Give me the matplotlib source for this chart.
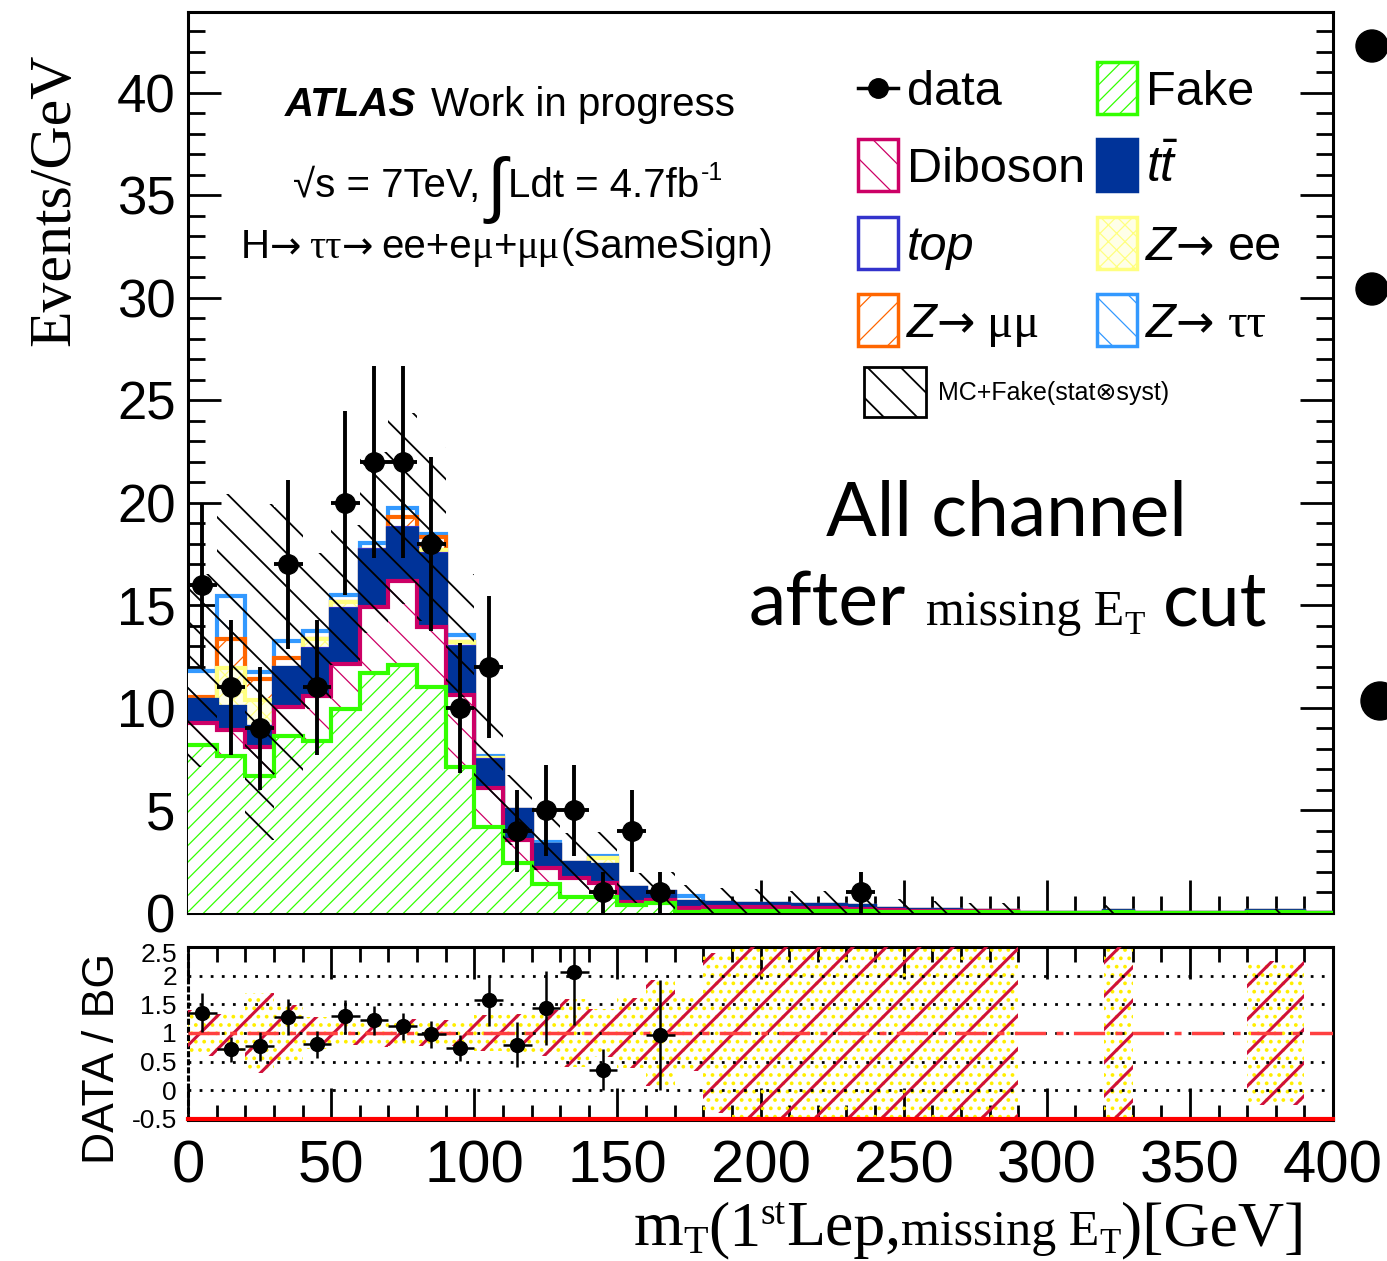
import numpy as np
import matplotlib
matplotlib.use("Agg")
import matplotlib.pyplot as plt
import matplotlib.transforms as mtransforms
from matplotlib.patches import Rectangle, Ellipse
from matplotlib.lines import Line2D
from matplotlib.ticker import MultipleLocator, FixedLocator

W, H = 1387, 1261

SANS = ["Liberation Sans", "DejaVu Sans"]
SERIF = ["Liberation Serif", "DejaVu Serif"]

plt.rcParams["font.family"] = SANS
plt.rcParams["mathtext.fontset"] = "custom"
plt.rcParams["mathtext.rm"] = "Liberation Sans"
plt.rcParams["mathtext.it"] = "Liberation Sans:italic"
plt.rcParams["mathtext.bf"] = "Liberation Sans:bold"
plt.rcParams["hatch.linewidth"] = 1.0

# m_T(1st lepton, MET), 10 GeV bins from 0 to 400
edges = np.arange(0, 410, 10)
centers = edges[:-1] + 5

data = [16, 11, 9, 17, 11, 20, 22, 22, 18, 10,
        12, 4, 5, 5, 1, 4, 1, 0, 0, 0,
        0, 0, 0, 1, 0, 0, 0, 0, 0, 0,
        0, 0, 0, 0, 0, 0, 0, 0, 0, 0]

fake = [8.2, 7.65, 6.68, 8.65, 8.39, 9.95, 11.7, 12.1, 11.04, 7.14,
        4.2, 2.44, 1.41, 0.8, 0.8, 0.39, 0.47, 0.07, 0.1, 0.12,
        0.12, 0.1, 0.1, 0.08, 0.06, 0.05, 0.05, 0.04, 0.04, 0.0,
        0.0, 0.0, 0.03, 0.0, 0.0, 0.0, 0.0, 0.03, 0.03, 0.0]

diboson = [1.07, 1.28, 1.42, 1.4, 2.21, 2.2, 3.24, 4.1, 2.93, 3.49,
           1.91, 1.12, 0.77, 0.9, 0.65, 0.16, 0.16, 0.15, 0.2, 0.18,
           0.16, 0.15, 0.15, 0.12, 0.08, 0.07, 0.06, 0.05, 0.04, 0.0,
           0.0, 0.0, 0.03, 0.0, 0.0, 0.0, 0.0, 0.03, 0.03, 0.0]

ttbar = [1.13, 1.13, 0.99, 1.88, 2.23, 2.63, 2.71, 2.51, 3.48, 2.31,
         1.3, 1.46, 1.14, 0.73, 0.88, 0.65, 0.41, 0.33, 0.2, 0.15,
         0.14, 0.15, 0.15, 0.15, 0.04, 0.03, 0.03, 0.02, 0.02, 0.0,
         0.0, 0.0, 0.02, 0.0, 0.0, 0.0, 0.0, 0.02, 0.02, 0.0]

single_top = [0.0, 0.0, 0.0, 0.0, 0.05, 0.05, 0.05, 0.05, 0.05, 0.05,
              0.05, 0.0, 0.0, 0.0, 0.0, 0.0, 0.0, 0.0, 0.0, 0.0,
              0.0, 0.0, 0.0, 0.0, 0.0, 0.0, 0.0, 0.0, 0.0, 0.0,
              0.0, 0.0, 0.0, 0.0, 0.0, 0.0, 0.0, 0.0, 0.0, 0.0]

zee = [0.0, 1.87, 1.31, 0.0, 0.48, 0.36, 0.0, 0.0, 0.2, 0.21,
       0.1, 0.0, 0.0, 0.0, 0.33, 0.0, 0.0, 0.0, 0.0, 0.0,
       0.0, 0.0, 0.0, 0.0, 0.0, 0.0, 0.0, 0.0, 0.0, 0.0,
       0.0, 0.0, 0.0, 0.0, 0.0, 0.0, 0.0, 0.0, 0.0, 0.0]

zmumu = [0.15, 1.42, 1.0, 0.49, 0.0, 0.0, 0.0, 0.57, 0.63, 0.0,
         0.0, 0.0, 0.0, 0.0, 0.0, 0.0, 0.0, 0.0, 0.0, 0.0,
         0.0, 0.0, 0.0, 0.0, 0.0, 0.0, 0.0, 0.0, 0.0, 0.0,
         0.0, 0.0, 0.0, 0.0, 0.0, 0.0, 0.0, 0.0, 0.0, 0.0]

ztautau = [1.27, 2.11, 0.37, 0.86, 0.39, 0.32, 0.37, 0.41, 0.17, 0.36,
           0.1, 0.0, 0.16, 0.0, 0.14, 0.0, 0.0, 0.28, 0.0, 0.0,
           0.0, 0.0, 0.0, 0.0, 0.0, 0.0, 0.0, 0.0, 0.0, 0.0,
           0.0, 0.0, 0.0, 0.0, 0.0, 0.0, 0.0, 0.0, 0.0, 0.0]

# MC + fake total uncertainty (stat (+) syst), absolute
bkg_unc = [4.7, 5.0, 8.2, 6.5, 3.8, 3.4, 4.4, 4.65, 4.25, 3.0,
           2.4, 1.7, 1.4, 1.46, 1.17, 0.73, 0.96, 0.55, 0.7, 0.7,
           0.7, 0.65, 0.65, 0.6, 0.5, 0.5, 0.45, 0.4, 0.4, 0.0,
           0.0, 0.0, 0.3, 0.0, 0.0, 0.0, 0.0, 0.1, 0.1, 0.0]

ratio_ticks = [-0.5, 0, 0.5, 1, 1.5, 2, 2.5]
ratio_labels = ["-0.5", "0", "0.5", "1", "1.5", "2", "2.5"]

# stack order bottom -> top: (values, line colour, fill colour, hatch)
stack = [
    (fake, "#33ff00", "white", "//"),
    (diboson, "#cc0066", "white", "\\"),
    (ttbar, "#003399", "#003399", None),
    (single_top, "#3333cc", "white", None),
    (zee, "#ffff80", "#ffffe8", "xx"),
    (zmumu, "#ff6600", "white", "/"),
    (ztautau, "#3399ff", "white", "\\"),
]


def set_hatch_lw(artists, lw):
    for a in artists:
        if hasattr(a, "set_hatch_linewidth"):
            a.set_hatch_linewidth(lw)


fig = plt.figure(figsize=(W / 100, H / 100), dpi=100)
ax = fig.add_axes([188 / W, 1 - 913 / H, 1145 / W, 901 / H])
rax = fig.add_axes([188 / W, 1 - 1120 / H, 1145 / W, 173 / H])

# cumulative bottoms/tops of the stack
bottoms, tops = [], []
running = np.zeros(len(centers))
for vals, _, _, _ in stack:
    bottoms.append(running.copy())
    running = running + np.asarray(vals)
    tops.append(running.copy())
total = running

# draw from the top of the stack downwards so lower outlines sit on top
for i in reversed(range(len(stack))):
    vals, lc, fc, hatch = stack[i]
    z = 2 + (len(stack) - i)
    bars = ax.bar(centers, vals, width=10, bottom=bottoms[i], color=fc,
                  edgecolor=lc, hatch=hatch, linewidth=0, zorder=z)
    set_hatch_lw(bars, 0.9)
    ax.stairs(tops[i], edges, baseline=None, color=lc, lw=3, zorder=z + 0.5)

unc = np.asarray(bkg_unc)
band = ax.bar(centers, 2 * unc, width=10, bottom=total - unc, facecolor="none",
              edgecolor="black", hatch="\\", linewidth=0, zorder=12)
set_hatch_lw(band, 1.3)

d = np.asarray(data, dtype=float)
has = d > 0
ax.errorbar(centers[has], d[has], yerr=np.sqrt(d[has]), xerr=5, fmt="o",
            color="black", ms=14, elinewidth=2.8, capsize=0, zorder=20)

ax.set_xlim(0, 400)
ax.set_ylim(0, 43.95)
ax.xaxis.set_major_locator(MultipleLocator(50))
ax.xaxis.set_minor_locator(MultipleLocator(10))
ax.yaxis.set_major_locator(MultipleLocator(5))
ax.yaxis.set_minor_locator(MultipleLocator(1))
ax.tick_params(which="both", direction="in", right=True, top=False,
               labelbottom=False, width=2, labelsize=38, pad=9)
ax.tick_params(which="major", length=24)
ax.tick_params(which="minor", length=12)
for s in ax.spines.values():
    s.set_linewidth(2.2)

# ratio panel
ok = total > 0
rel = np.zeros(len(centers))
rel[ok] = unc[ok] / total[ok]
r1 = rax.bar(centers[ok], 2 * rel[ok], width=10, bottom=1 - rel[ok], facecolor="none",
             edgecolor="#ffee00", hatch="..", linewidth=0, zorder=2)
r2 = rax.bar(centers[ok], 2 * rel[ok], width=10, bottom=1 - rel[ok], facecolor="none",
             edgecolor="#d0103a", hatch="/", linewidth=0, zorder=3)
set_hatch_lw(r1, 1.5)
set_hatch_lw(r2, 2.2)

for yv in [0, 0.5, 1, 1.5, 2]:
    rax.axhline(yv, color="black", ls=(0, (1, 3)), lw=2, zorder=4)
rax.axhline(1, color="#ff4040", ls=(0, (9, 3, 2, 3)), lw=2.5, zorder=5)
rax.axhline(-0.5, color="red", lw=3, zorder=6, clip_on=False)

sel = has & ok
ratio = np.zeros(len(centers))
ratio_err = np.zeros(len(centers))
ratio[sel] = d[sel] / total[sel]
ratio_err[sel] = np.sqrt(d[sel]) / total[sel]
show = sel & (ratio > -0.5) & (ratio < 2.5)
rax.errorbar(centers[show], ratio[show], yerr=ratio_err[show], xerr=5, fmt="o",
             color="black", ms=10, elinewidth=1.8, capsize=0, zorder=10)

rax.set_xlim(0, 400)
rax.set_ylim(-0.52, 2.5)
rax.xaxis.set_major_locator(MultipleLocator(50))
rax.xaxis.set_minor_locator(MultipleLocator(10))
rax.yaxis.set_major_locator(FixedLocator(ratio_ticks))
rax.set_yticklabels(ratio_labels)
rax.tick_params(axis="x", which="both", direction="in", top=True, bottom=True,
                width=2, labelsize=43, pad=14)
rax.tick_params(axis="x", which="major", length=23)
rax.tick_params(axis="x", which="minor", length=11)
rax.tick_params(axis="y", which="both", length=0, labelsize=19, pad=8)
for s in rax.spines.values():
    s.set_linewidth(2.2)
rax.spines["left"].set_linestyle(":")

# nudge the top ratio label down a little so it clears the main panel's "0"
top_lab = rax.get_yticklabels()[-1]
top_lab.set_transform(top_lab.get_transform()
                      + mtransforms.ScaledTranslation(0, -4 / 72, fig.dpi_scale_trans))

renderer = fig.canvas.get_renderer()


def put_runs(x, y, runs, align="left"):
    """Place text pieces side by side; x, y in pixels from top-left, y = baseline."""
    pieces = []
    cx = x
    for text, size, dy, gap, kw in runs:
        kw = dict(kw)
        kw.setdefault("family", SANS)
        t = fig.text(cx / W, 1 - (y - dy) / H, text, fontsize=size,
                     va="baseline", ha="left", **kw)
        cx += t.get_window_extent(renderer).width + gap
        pieces.append(t)
    shift = {"left": 0, "center": (cx - x) / 2, "right": cx - x}[align]
    for t in pieces:
        px, py = t.get_position()
        t.set_x(px - shift / W)
    return pieces


BI = dict(weight="bold", style="italic")
IT = dict(style="italic")
SF = dict(family=SERIF)
ARW = dict(family=["DejaVu Sans"])
LATO = dict(family=["Lato", "DejaVu Sans"], weight="normal")

put_runs(510, 116, [("ATLAS", 29, 0, 14, BI), ("Work in progress", 29, 0, 0, {})], "center")
put_runs(508, 197, [("√s = 7TeV,", 29, 0, 6, {}), ("∫", 52, -12, 2, {}),
                    ("Ldt = 4.7fb", 29, 0, 1, {}), ("-1", 18, 17, 0, {})], "center")
put_runs(507, 258, [("H", 29, 0, 0, {}), ("→", 27, 0, 8, ARW), ("ττ", 29, 0, 0, SF),
                    ("→", 27, 0, 8, ARW),
                    ("ee+e", 29, 0, 0, {}), ("μ", 29, 0, 0, SF), ("+", 29, 0, 0, {}),
                    ("μμ", 29, 0, 0, SF), ("(SameSign)", 29, 0, 0, {})], "center")

put_runs(1006, 535, [("All channel", 54, 0, 0, LATO)], "center")
put_runs(1008, 625, [("after", 54, 0, 20, LATO), ("missing E", 36, 0, 0, SF),
                     ("T", 24, -9, 18, SF), ("cut", 54, 0, 0, LATO)], "center")

# legend
row_y = [88, 165, 243, 320]
col_x = [858, 1097]
fig.add_artist(Line2D([col_x[0] / W, (col_x[0] + 40) / W], [1 - row_y[0] / H] * 2,
                      transform=fig.transFigure, color="black", lw=2.5))
fig.add_artist(Line2D([(col_x[0] + 20) / W], [1 - row_y[0] / H], transform=fig.transFigure,
                      marker="o", ms=14, color="black"))
put_runs(col_x[0] + 49, row_y[0] + 17, [("data", 35, 0, 0, {})])

entries = [
    (0, 1, 1, [("Diboson", 35, 0, 0, {})]),
    (0, 2, 3, [("top", 35, 0, 0, IT)]),
    (0, 3, 5, [("Z", 35, 0, 0, IT), ("→", 33, 0, 12, ARW), ("μμ", 35, 0, 0, SF)]),
    (1, 0, 0, [("Fake", 35, 0, 0, {})]),
    (1, 1, 2, [(r"$t\bar{t}$", 36, 0, 0, {})]),
    (1, 2, 4, [("Z", 35, 0, 0, IT), ("→", 33, 0, 14, ARW), ("ee", 35, 0, 0, {})]),
    (1, 3, 6, [("Z", 35, 0, 0, IT), ("→", 33, 0, 14, ARW), ("ττ", 35, 0, 0, SF)]),
]
for col, row, k, runs in entries:
    _, lc, fc, hatch = stack[k]
    x0, yc = col_x[col], row_y[row]
    r = Rectangle((x0 / W, 1 - (yc + 26) / H), 40 / W, 52 / H, transform=fig.transFigure,
                  facecolor=fc, edgecolor=lc, hatch=hatch, lw=2.5)
    fig.add_artist(r)
    set_hatch_lw([r], 0.9)
    put_runs(x0 + 49, yc + 17, runs)

r = Rectangle((864 / W, 1 - 417 / H), 62 / W, 50 / H, transform=fig.transFigure,
              facecolor="white", edgecolor="black", hatch="\\", lw=2)
fig.add_artist(r)
set_hatch_lw([r], 1.3)
put_runs(938, 400, [("MC+Fake(stat⊗syst)", 18, 0, 0, {})])

# axis titles
fig.text(55 / W, 1 - 200 / H, "Events/GeV", rotation=90, family=SERIF, fontsize=43,
         ha="center", va="center")
fig.text(103 / W, 1 - 1058 / H, "DATA / BG", rotation=90, fontsize=32,
         ha="center", va="center")
put_runs(1305, 1245, [("m", 46, 0, 0, SF), ("T", 29, -8, 0, SF), ("(1", 46, 0, 0, SF),
                      ("st", 27, 21, 0, SF), ("Lep,", 46, 0, 0, SF),
                      ("missing E", 36, 0, 0, SF), ("T", 25, -8, 0, SF),
                      (")[GeV]", 46, 0, 0, SF)], "right")

# slide bullets along the right edge
for cx, cy, d_ in [(1372, 46, 32), (1372, 289, 32), (1380, 701, 38)]:
    fig.add_artist(Ellipse((cx / W, 1 - cy / H), d_ / W, d_ / H, transform=fig.transFigure,
                           color="black"))

fig.savefig("out.png", dpi=100)
